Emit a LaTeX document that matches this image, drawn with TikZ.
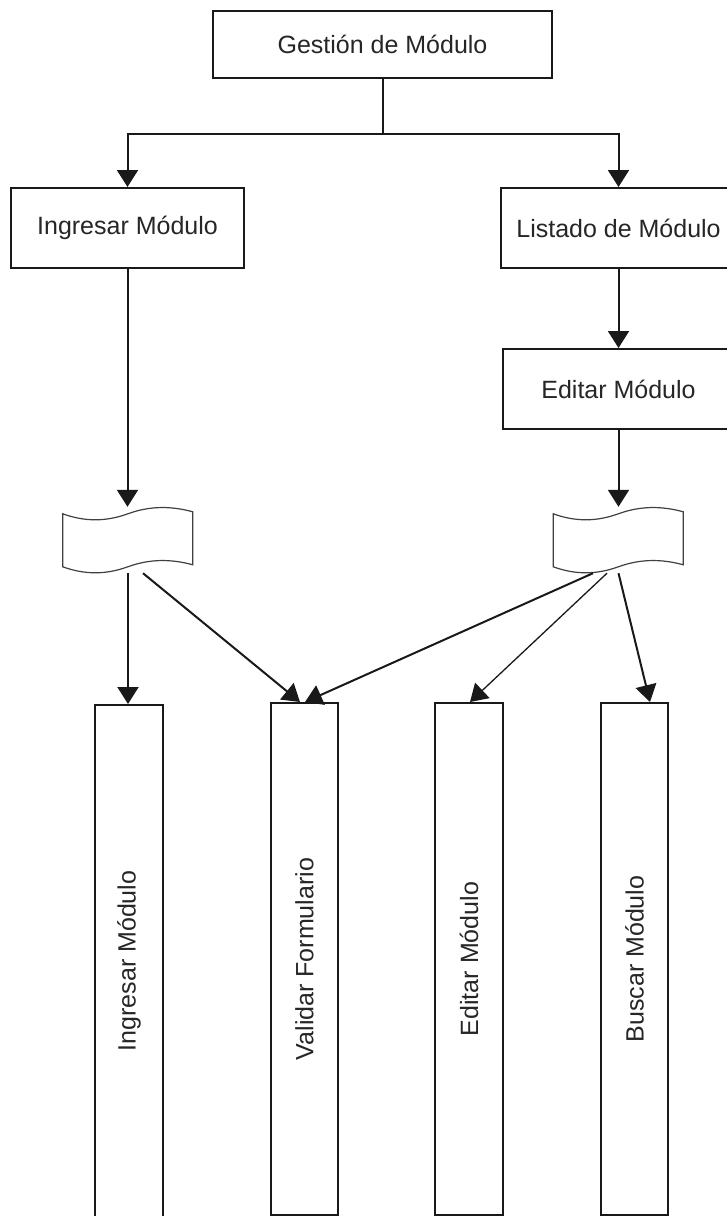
\documentclass[tikz,border=0pt]{standalone}
\usepackage{fontspec}
\setmainfont{Liberation Sans}
\usetikzlibrary{arrows.meta,calc}
\begin{document}
\begin{tikzpicture}[x=1pt,y=-1pt,
  box/.style={draw=black!90, line width=2pt, fill=white, inner sep=0pt,
    font=\fontsize{25}{30}\selectfont, text=black!85},
  conn/.style={line width=2pt, draw=black!90},
  arr/.style={conn, -{Triangle[width=21pt,length=17pt]}},
  tapebox/.style={inner sep=0pt, minimum width=130pt, minimum height=66pt},
  tapeline/.style={draw=black!75, line width=1.2pt, fill=white},
  vlab/.style={rotate=90, font=\fontsize{25}{30}\selectfont, text=black!85},
  tape/.pic={\draw[tapeline] (0,7) .. controls (22,15) and (43,15) .. (65,7)
      .. controls (87,-1) and (108,-1) .. (130,5) -- (130,58)
      .. controls (108,52) and (87,52) .. (65,60)
      .. controls (43,68) and (22,68) .. (0,60) -- cycle;}
]
\useasboundingbox (0,0) rectangle (727,1216);

\node[box, minimum width=339pt, minimum height=67pt] (g) at (382.5,44.5) {Gestión de Módulo};
\node[box, minimum width=233pt, minimum height=80pt] (ing) at (127.5,228) {Ingresar Módulo};
\node[box, minimum width=235pt, minimum height=80pt] (lis) at (618.5,228) {Listado de Módulo};
\node[box, minimum width=231pt, minimum height=80pt] (edi) at (618.5,389) {Editar Módulo};

\node[tapebox] (t1) at (128,540) {};
\node[tapebox] (t2) at (618.5,540) {};
\pic at (t1.north west) {tape};
\pic at (t2.north west) {tape};

\node[box, minimum width=68pt, minimum height=512pt, label={[vlab]center:Ingresar Módulo}] (bi) at (129,961) {};
\node[box, minimum width=67pt, minimum height=512pt, label={[vlab]center:Validar Formulario}] (bv) at (304.5,959) {};
\node[box, minimum width=68pt, minimum height=512pt, label={[vlab]center:Editar Módulo}] (be) at (469,959) {};
\node[box, minimum width=67pt, minimum height=512pt, label={[vlab]center:Buscar Módulo}] (bb) at (634.5,959) {};

\draw[conn] (g.south) -- ++(0,55) coordinate (j);
\draw[arr] (j) -| (ing.north);
\draw[arr] (j) -| (lis.north);
\draw[arr] (ing.south) -- (ing.south |- t1.north);
\draw[arr] (lis.south) -- (edi.north);
\draw[arr] (edi.south) -- (t2.north);

\draw[arr] (t1.south) -- (t1.south |- bi.north);
\draw[arr] ([xshift=15pt]t1.south) -- ([xshift=-4.5pt]bv.north);
\draw[arr] ([xshift=-25.5pt]t2.south) -- ([xshift=0.5pt]bv.north);
\draw[arr, line width=1.3pt] ([xshift=-11.5pt]t2.south) -- ([xshift=1pt]be.north);
\draw[arr] (t2.south) -- ([xshift=15.5pt]bb.north);
\end{tikzpicture}
\end{document}
